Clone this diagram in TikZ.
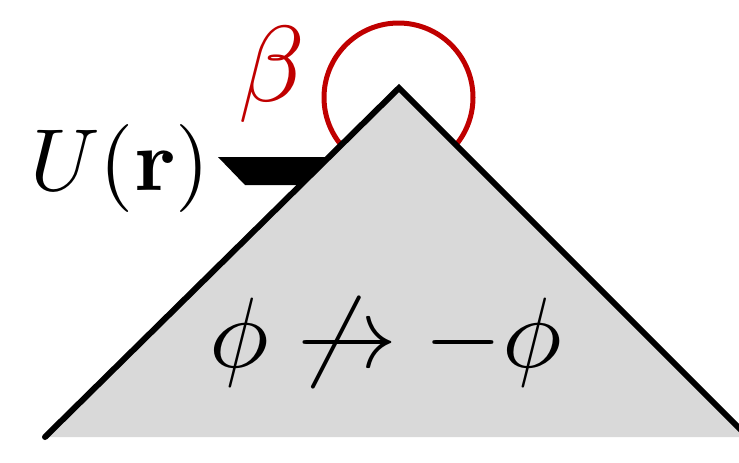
\documentclass[tikz,border=0pt]{standalone}
\usepackage{amsmath,amssymb}
\definecolor{tri}{RGB}{217,217,217}
\definecolor{betared}{RGB}{192,0,0}
\tikzset{
  lbl/.style={inner sep=0pt, anchor=base},
  edge/.style={line width=3pt, line cap=round, line join=miter},
}
\begin{document}
\begin{tikzpicture}[x=0.5pt,y=-0.5pt]
\useasboundingbox (0,0) rectangle (739,462);
% wedge
\fill[black] (218,157) -- (360,157) -- (360,185) -- (245,185) -- cycle;
% red arc
\draw[betared, line width=2.5pt] (398.5,97.5) ++(135:74.5) arc[start angle=135, end angle=405, radius=74.5];
% triangle
\coordinate (L) at (45,437);
\coordinate (A) at (399,88);
\coordinate (R) at (748,437);
\fill[tri] (L) -- (A) -- (R) -- cycle;
\draw[edge] (L) -- (A) -- (R);
% labels
\node[lbl, scale=4.4] (U) at (120,190) {$U(\mathbf{r})$};
\node[lbl, scale=5.4, text=betared] (b) at (272,101) {$\beta$};
\node[lbl, scale=5.0] (p) at (386,367) {$\phi \not\rightarrow -\phi$};
\end{tikzpicture}
\end{document}
